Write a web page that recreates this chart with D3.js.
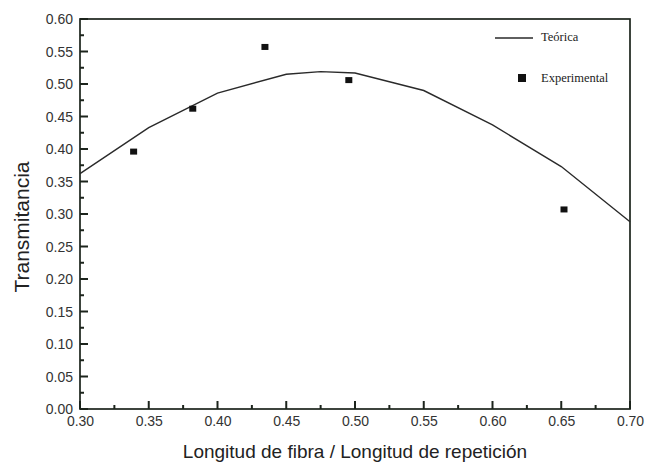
<!DOCTYPE html>
<html>
<head>
<meta charset="utf-8">
<script src="https://cdn.jsdelivr.net/npm/d3@7"></script>
<style>
  body { margin: 0; background: #fff; }
  svg { display: block; }
</style>
</head>
<body>
<div id="chart"></div>
<script>
// Curva teórica
const theoX = [0.30, 0.35, 0.40, 0.45, 0.475, 0.50, 0.55, 0.60, 0.65, 0.70];
const theoY = [0.362, 0.433, 0.486, 0.515, 0.519, 0.517, 0.490, 0.437, 0.373, 0.288];

// Puntos experimentales
const expX = [0.339, 0.382, 0.4345, 0.4955, 0.652];
const expY = [0.396, 0.462, 0.557, 0.506, 0.307];

const xTicks = [0.30, 0.35, 0.40, 0.45, 0.50, 0.55, 0.60, 0.65, 0.70];
const yTicks = [0.00, 0.05, 0.10, 0.15, 0.20, 0.25, 0.30, 0.35, 0.40, 0.45, 0.50, 0.55, 0.60];

const svgWidth = 646;
const svgHeight = 462;

const margin = { top: 19, right: 16, bottom: 53, left: 80 };
const chartWidth = svgWidth - margin.left - margin.right;
const chartHeight = svgHeight - margin.top - margin.bottom;

const svg = d3.select("#chart").append("svg")
    .attr("width", svgWidth)
    .attr("height", svgHeight);

const g = svg.append("g")
    .attr("transform", `translate(${margin.left}, ${margin.top})`);

const xScale = d3.scaleLinear().domain([0.30, 0.70]).range([0, chartWidth]);
const yScale = d3.scaleLinear().domain([0, 0.60]).range([chartHeight, 0]);

const axisColor = "#1c241c";
const fmt = d3.format(".2f");

// marcas menores
const xMinor = d3.range(0.325, 0.70, 0.05);
const yMinor = d3.range(0.025, 0.60, 0.05);

const xAxis = d3.axisBottom(xScale).tickValues(xTicks).tickFormat(fmt)
    .tickSize(0).tickPadding(6);
const yAxis = d3.axisLeft(yScale).tickValues(yTicks).tickFormat(fmt)
    .tickSize(0).tickPadding(7);

const xAxisG = g.append("g")
    .attr("transform", `translate(0, ${chartHeight})`)
    .call(xAxis);
const yAxisG = g.append("g").call(yAxis);
xAxisG.select(".domain").remove();
yAxisG.select(".domain").remove();

[xAxisG, yAxisG].forEach(a => a.selectAll("text")
    .attr("font-family", "Liberation Sans, Arial, sans-serif")
    .attr("font-size", "14px")
    .attr("fill", "#333"));
xAxisG.selectAll("text").attr("dy", "0.75em");
yAxisG.selectAll("text").attr("text-anchor", "end").attr("dy", "0.35em");

// marcas hacia dentro
const ticks = g.append("g").attr("stroke", axisColor).attr("stroke-width", 2);
ticks.selectAll("line.xmaj").data(xTicks).enter().append("line")
    .attr("x1", d => xScale(d)).attr("x2", d => xScale(d))
    .attr("y1", chartHeight).attr("y2", chartHeight - 8);
ticks.selectAll("line.xmin").data(xMinor).enter().append("line")
    .attr("x1", d => xScale(d)).attr("x2", d => xScale(d))
    .attr("y1", chartHeight).attr("y2", chartHeight - 4);
ticks.selectAll("line.ymaj").data(yTicks).enter().append("line")
    .attr("x1", 0).attr("x2", 8)
    .attr("y1", d => yScale(d)).attr("y2", d => yScale(d));
ticks.selectAll("line.ymin").data(yMinor).enter().append("line")
    .attr("x1", 0).attr("x2", 4)
    .attr("y1", d => yScale(d)).attr("y2", d => yScale(d));

// marco
g.append("rect")
    .attr("width", chartWidth)
    .attr("height", chartHeight)
    .attr("fill", "none")
    .attr("stroke", axisColor)
    .attr("stroke-width", 1.7);

// curva teórica
const line = d3.line()
    .x((d, i) => xScale(theoX[i]))
    .y((d, i) => yScale(theoY[i]));

g.append("path")
    .datum(theoX)
    .attr("d", line)
    .attr("fill", "none")
    .attr("stroke", "#2a2a2a")
    .attr("stroke-width", 1.4);

// puntos experimentales
g.selectAll("rect.pt").data(expX)
    .enter().append("rect")
    .attr("class", "pt")
    .attr("x", (d, i) => xScale(d) - 3.5)
    .attr("y", (d, i) => yScale(expY[i]) - 3)
    .attr("width", 7)
    .attr("height", 6)
    .attr("fill", "#111");

// leyenda
const legend = g.append("g").attr("transform", "translate(415, 19)");
legend.append("line")
    .attr("x1", 0).attr("x2", 38)
    .attr("y1", 0).attr("y2", 0)
    .attr("stroke", "#2a2a2a").attr("stroke-width", 1.4);
legend.append("rect")
    .attr("x", 23).attr("y", 36)
    .attr("width", 8).attr("height", 8)
    .attr("fill", "#111");
legend.append("text")
    .attr("x", 46).attr("y", 3)
    .attr("font-family", "Liberation Serif, Times New Roman, serif")
    .attr("font-size", "12.5px")
    .attr("fill", "#222")
    .text("Teórica");
legend.append("text")
    .attr("x", 46).attr("y", 44)
    .attr("font-family", "Liberation Serif, Times New Roman, serif")
    .attr("font-size", "12.5px")
    .attr("fill", "#222")
    .text("Experimental");

// títulos de ejes
svg.append("text")
    .attr("x", 355)
    .attr("y", 458)
    .attr("text-anchor", "middle")
    .attr("font-family", "Liberation Sans, Arial, sans-serif")
    .attr("font-size", "19px")
    .attr("fill", "#222")
    .text("Longitud de fibra / Longitud de repetición");

svg.append("text")
    .attr("transform", "translate(29, 227) rotate(-90)")
    .attr("text-anchor", "middle")
    .attr("font-family", "Liberation Sans, Arial, sans-serif")
    .attr("font-size", "21px")
    .attr("fill", "#222")
    .text("Transmitancia");
</script>
</body>
</html>
